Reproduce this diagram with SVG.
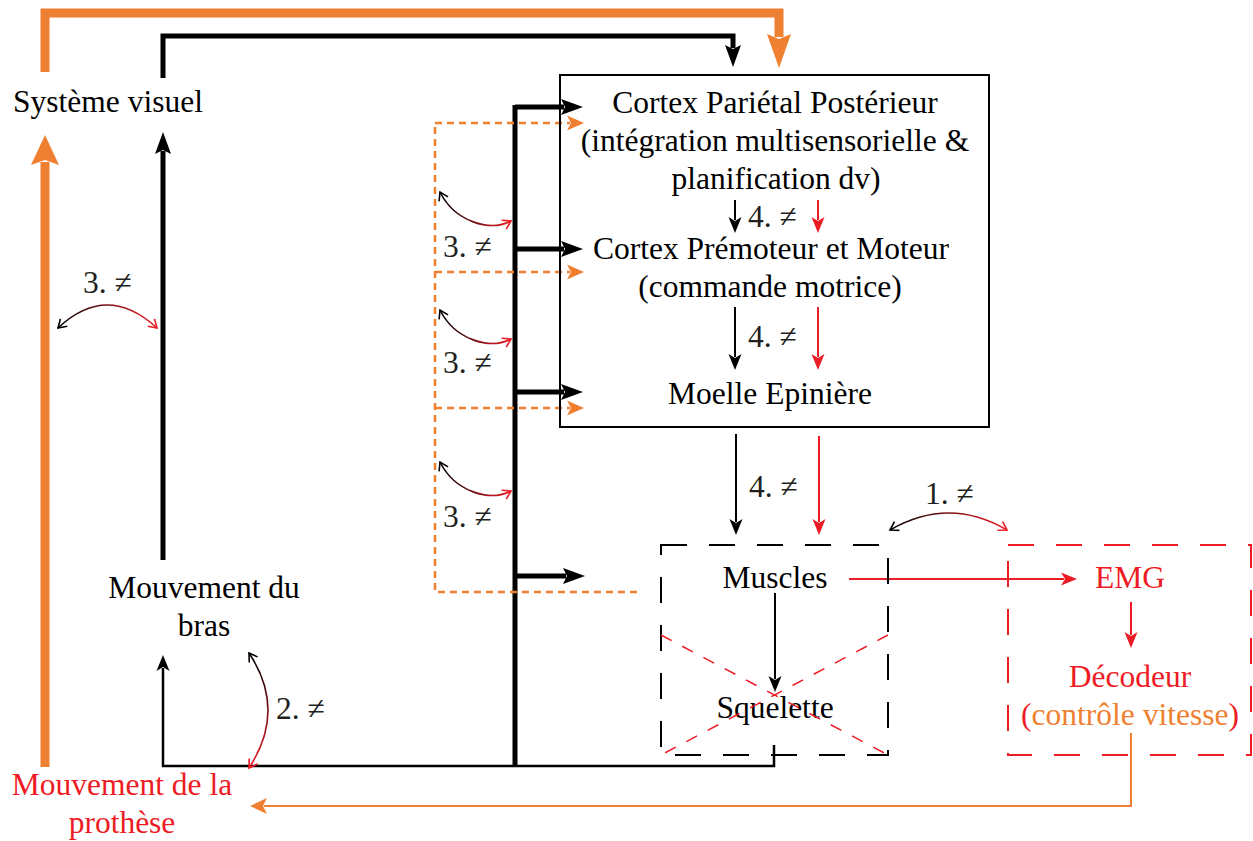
<svg xmlns="http://www.w3.org/2000/svg" width="1253" height="841" viewBox="0 0 1253 841">
<style>
text{font-family:"Liberation Serif","Times New Roman",serif;font-size:31.5px;fill:#000}
.c{text-anchor:middle}
.red{fill:#ed1c24}
.org{fill:#ef7f31}
.lbl{fill:#231f20}
.k5{stroke:#000;stroke-width:5;fill:none}
.k2{stroke:#000;stroke-width:2;fill:none}
.r2{stroke:#ed1c24;stroke-width:2;fill:none}
.o9{stroke:#ef7f31;stroke-width:9;fill:none}
.od{stroke:#ef7f31;stroke-width:2.5;fill:none;stroke-dasharray:7 5}
.o2{stroke:#ef7f31;stroke-width:2;fill:none}
.arc{stroke-width:1.6;fill:none}
</style>
<defs>
<marker id="hk5" markerUnits="userSpaceOnUse" orient="auto" refX="3" refY="0" overflow="visible" markerWidth="1" markerHeight="1"><path d="M0,-8 L22,0 L0,8 L4,0 z" fill="#000"/></marker>
<marker id="hk2" markerUnits="userSpaceOnUse" orient="auto" refX="3" refY="0" overflow="visible" markerWidth="1" markerHeight="1"><path d="M0,-6.5 L16,0 L0,6.5 L4,0 z" fill="#000"/></marker>
<marker id="hr2" markerUnits="userSpaceOnUse" orient="auto" refX="3" refY="0" overflow="visible" markerWidth="1" markerHeight="1"><path d="M0,-6.5 L16,0 L0,6.5 L4,0 z" fill="#ed1c24"/></marker>
<marker id="hod" markerUnits="userSpaceOnUse" orient="auto" refX="3" refY="0" overflow="visible" markerWidth="1" markerHeight="1"><path d="M0,-7.5 L17,0 L0,7.5 L4,0 z" fill="#ef7f31"/></marker>
<marker id="ho9t" markerUnits="userSpaceOnUse" orient="auto" refX="3" refY="0" overflow="visible" markerWidth="1" markerHeight="1"><path d="M0,-12 L34,0 L0,12 L5,0 z" fill="#ef7f31"/></marker>
<marker id="ho9l" markerUnits="userSpaceOnUse" orient="auto" refX="3" refY="0" overflow="visible" markerWidth="1" markerHeight="1"><path d="M0,-14 L30,0 L0,14 L5,0 z" fill="#ef7f31"/></marker>
<marker id="ho2" markerUnits="userSpaceOnUse" orient="auto" refX="3" refY="0" overflow="visible" markerWidth="1" markerHeight="1"><path d="M0,-8 L17,0 L0,8 L4,0 z" fill="#ef7f31"/></marker>
<marker id="vk" markerUnits="userSpaceOnUse" orient="auto-start-reverse" refX="0" refY="0" overflow="visible" markerWidth="1" markerHeight="1"><path d="M-8,-5 L0,0 L-8,5" fill="none" stroke="#000" stroke-width="1.6"/></marker>
<marker id="vr" markerUnits="userSpaceOnUse" orient="auto" refX="0" refY="0" overflow="visible" markerWidth="1" markerHeight="1"><path d="M-8,-5 L0,0 L-8,5" fill="none" stroke="#ed1c24" stroke-width="1.6"/></marker>
<linearGradient id="gx" x1="0" y1="0" x2="1" y2="0"><stop offset="0" stop-color="#000"/><stop offset="0.5" stop-color="#7a0f14"/><stop offset="1" stop-color="#ed1c24"/></linearGradient>
<linearGradient id="gy" x1="0" y1="0" x2="0" y2="1"><stop offset="0" stop-color="#000"/><stop offset="0.5" stop-color="#7a0f14"/><stop offset="1" stop-color="#ed1c24"/></linearGradient>
</defs>

<g id="connectors">
  <!-- top feedback loops -->
  <path class="o9" d="M45,72 V13 H779 V37" marker-end="url(#ho9t)"/>
  <path class="k5" d="M163,78 V36 H733 V48" marker-end="url(#hk5)"/>
  <!-- left vertical arrows -->
  <path class="o9" d="M45,767 V162" marker-end="url(#ho9l)"/>
  <path class="k5" d="M163,560 V151" marker-end="url(#hk5)"/>
  <!-- bottom black line -->
  <path d="M774,745 V766 H163 V668" stroke="#000" stroke-width="2.5" fill="none" marker-end="url(#hk2)"/>
  <!-- thick vertical bus -->
  <path class="k5" d="M515,105 V766"/>
  <path class="k5" d="M515,107 H564" marker-end="url(#hk5)"/>
  <path class="k5" d="M515,249 H564" marker-end="url(#hk5)"/>
  <path class="k5" d="M515,392 H564" marker-end="url(#hk5)"/>
  <path class="k5" d="M515,576 H566" marker-end="url(#hk5)"/>
  <!-- orange dashed feedback -->
  <path class="od" d="M637,592 H435 V123"/>
  <path class="od" d="M435,123 H570" marker-end="url(#hod)"/>
  <path class="od" d="M435,272 H570" marker-end="url(#hod)"/>
  <path class="od" d="M435,408 H570" marker-end="url(#hod)"/>
  <!-- internal cortex arrows -->
  <path class="k2" d="M735,200 V220" marker-end="url(#hk2)"/>
  <path class="r2" d="M818,200 V220" marker-end="url(#hr2)"/>
  <path class="k2" d="M735,307 V357" marker-end="url(#hk2)"/>
  <path class="r2" d="M818,307 V357" marker-end="url(#hr2)"/>
  <path class="k2" d="M736,434 V522" marker-end="url(#hk2)"/>
  <path class="r2" d="M819,436 V522" marker-end="url(#hr2)"/>
  <path class="k2" d="M775,593 V679" marker-end="url(#hk2)"/>
  <!-- EMG chain -->
  <path class="r2" d="M849,579 H1064" marker-end="url(#hr2)"/>
  <path class="r2" d="M1131,602 V635" marker-end="url(#hr2)"/>
  <path class="o2" d="M1131,733 V806 H264" marker-end="url(#ho2)"/>
  <!-- difference arcs -->
  <path class="arc" stroke="url(#gx)" d="M58,328 Q107,282 157,328" marker-start="url(#vk)" marker-end="url(#vr)"/>
  <path class="arc" stroke="url(#gx)" d="M440,192 C455,222 490,232 511,221" marker-start="url(#vk)" marker-end="url(#vr)"/>
  <path class="arc" stroke="url(#gx)" d="M440,310 C455,340 490,350 511,339" marker-start="url(#vk)" marker-end="url(#vr)"/>
  <path class="arc" stroke="url(#gx)" d="M440,462 C455,492 490,502 511,491" marker-start="url(#vk)" marker-end="url(#vr)"/>
  <path class="arc" stroke="url(#gx)" d="M890,530 Q949,496 1007,530" marker-start="url(#vk)" marker-end="url(#vr)"/>
  <path class="arc" stroke="url(#gy)" d="M249,653 Q287,710 249,768" marker-start="url(#vk)" marker-end="url(#vr)"/>
</g>

<g id="labels">
  <text class="lbl" x="83" y="293">3. ≠</text>
  <text class="lbl" x="443" y="257">3. ≠</text>
  <text class="lbl" x="443" y="373">3. ≠</text>
  <text class="lbl" x="443" y="527">3. ≠</text>
  <text class="lbl" x="748" y="227">4. ≠</text>
  <text class="lbl" x="748" y="347">4. ≠</text>
  <text class="lbl" x="749" y="497">4. ≠</text>
  <text class="lbl" x="925" y="504">1. ≠</text>
  <text class="lbl" x="276" y="719">2. ≠</text>
</g>

<g id="systeme-visuel">
  <text class="c" x="108" y="112">Système visuel</text>
</g>

<g id="cortex">
  <rect x="560" y="75" width="429" height="352" fill="none" stroke="#000" stroke-width="2"/>
  <text class="c" x="775" y="113">Cortex Pariétal Postérieur</text>
  <text class="c" x="775" y="151">(intégration multisensorielle &amp;</text>
  <text class="c" x="776" y="189">planification dv)</text>
  <text class="c" x="771" y="259">Cortex Prémoteur et Moteur</text>
  <text class="c" x="770" y="297">(commande motrice)</text>
  <text class="c" x="770" y="404">Moelle Epinière</text>
</g>

<g id="mouvement-bras">
  <text class="c" x="204" y="598">Mouvement du</text>
  <text class="c" x="204" y="636">bras</text>
</g>

<g id="mouvement-prothese">
  <text class="c red" x="122" y="795">Mouvement de la</text>
  <text class="c red" x="122" y="833">prothèse</text>
</g>

<g id="muscles-squelette">
  <rect x="661" y="545" width="227" height="210" fill="none" stroke="#000" stroke-width="2" stroke-dasharray="26 22"/>
  <text class="c" x="775" y="588">Muscles</text>
  <text class="c" x="775" y="718">Squelette</text>
  <path d="M661,635 L888,755 M888,635 L661,755" stroke="#ed1c24" stroke-width="1.5" stroke-dasharray="12 12" fill="none"/>
</g>

<g id="emg-decodeur">
  <rect x="1008" y="545" width="243" height="210" fill="none" stroke="#ed1c24" stroke-width="2" stroke-dasharray="26 22"/>
  <text class="c red" x="1130" y="588">EMG</text>
  <text class="c red" x="1130" y="687">Décodeur</text>
  <text class="c" x="1130" y="725"><tspan class="red">(</tspan><tspan class="org">contrôle vitesse</tspan><tspan class="red">)</tspan></text>
</g>
</svg>
